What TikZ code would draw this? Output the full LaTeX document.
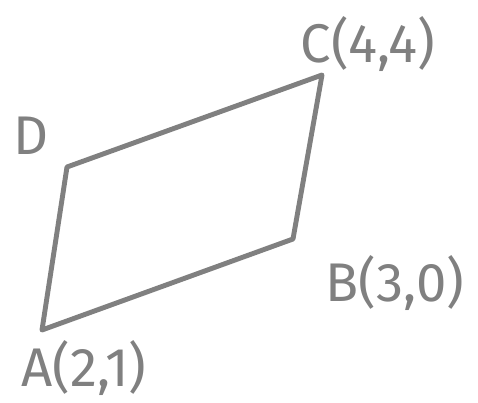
\documentclass[tikz,border=0pt]{standalone}
\usepackage{fontspec}
\setmainfont{Fira Sans}
\definecolor{pen}{RGB}{128,128,128}
\begin{document}
\begin{tikzpicture}[
		x=0.02cm, y=-0.02cm,
		lbl/.style = {text=pen, inner sep=0pt, font=\fontsize{31}{37}\selectfont},
		side/.style = {draw=pen, line width=2.8pt, line cap=round, line join=round}
		]
		\useasboundingbox (0,0) rectangle (478,403);
		
		%Corners
		\coordinate (A) at (42, 330);
		\coordinate (B) at (293, 239);
		\coordinate (C) at (322, 75);
		\coordinate (D) at (67, 167);
		
		%Labels
		\node[lbl]	(lblA)	at (84, 368)	{A(2,1)};
		\node[lbl]	(lblB)	at (395, 283)	{B(3,0)};
		\node[lbl]	(lblC)	at (368, 44)	{C(4,4)};
		\node[lbl]	(lblD)	at (31, 136)	{D};
		
		%Sides
		\draw[side] (A) -- (B) -- (C) -- (D) -- cycle;
		
	\end{tikzpicture}
\end{document}
